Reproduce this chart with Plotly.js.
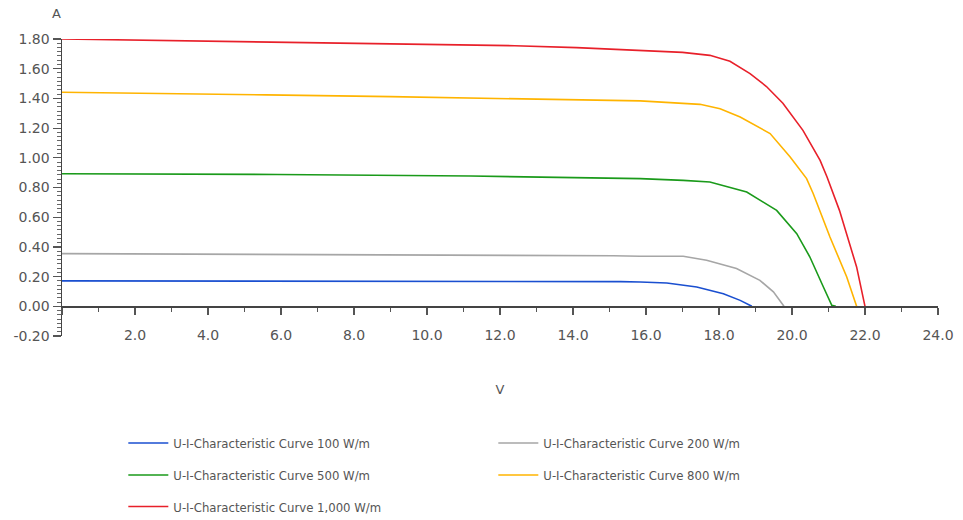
<!DOCTYPE html>
<html>
<head>
<meta charset="utf-8">
<script src="https://cdn.plot.ly/plotly-3.0.1.min.js"></script>
<style>html,body{margin:0;padding:0;background:#fff;}#chart{width:963px;height:520px;}</style>
</head>
<body>
<div id="chart"></div>
<script>
// Voltage (V) and current (A) pairs
const v100  = [0, 5.0, 10.0, 15.3, 15.84, 16.57, 17.39, 18.12, 18.58, 18.9];
const i100  = [0.171, 0.171, 0.170, 0.166, 0.164, 0.157, 0.130, 0.085, 0.040, 0.0];

const v200  = [0, 6.85, 12.0, 15.1, 15.84, 17.02, 17.66, 18.48, 19.12, 19.49, 19.78];
const i200  = [0.355, 0.350, 0.346, 0.340, 0.337, 0.337, 0.310, 0.254, 0.175, 0.097, 0.0];

const v500  = [0, 5.9, 11.2, 14.6, 15.84, 17.02, 17.75, 18.76, 19.58, 20.13, 20.49, 20.86, 21.09, 21.2];
const i500  = [0.893, 0.888, 0.877, 0.866, 0.860, 0.848, 0.837, 0.770, 0.646, 0.489, 0.332, 0.130, 0.007, 0.0];

const v800  = [0, 2.0, 5.6, 9.0, 12.2, 14.1, 15.84, 17.48, 18.03, 18.58, 19.4, 19.95, 20.4, 20.58, 21.04, 21.5, 21.77];
const i800  = [1.441, 1.436, 1.424, 1.412, 1.400, 1.390, 1.383, 1.360, 1.331, 1.275, 1.163, 1.006, 0.860, 0.760, 0.467, 0.197, 0.0];

const v1000 = [0, 1.5, 4.4, 7.3, 10.0, 12.4, 14.1, 15.84, 17.0, 17.75, 18.3, 18.85, 19.3, 19.75, 20.3, 20.77, 20.96, 21.3, 21.55, 21.77, 22.0];
const i1000 = [1.80, 1.795, 1.785, 1.775, 1.765, 1.755, 1.742, 1.724, 1.71, 1.69, 1.65, 1.567, 1.48, 1.367, 1.185, 0.983, 0.871, 0.646, 0.45, 0.265, 0.0];

const seriesNames = [
  "U-I-Characteristic Curve 100 W/m",
  "U-I-Characteristic Curve 200 W/m",
  "U-I-Characteristic Curve 500 W/m",
  "U-I-Characteristic Curve 800 W/m",
  "U-I-Characteristic Curve 1,000 W/m"
];
const seriesColors = ["#1a4fd0", "#a6a6a6", "#1a9a1a", "#ffb400", "#e8202a"];

const xTickVals = [2, 4, 6, 8, 10, 12, 14, 16, 18, 20, 22, 24];
const xTickText = ["2.0", "4.0", "6.0", "8.0", "10.0", "12.0", "14.0", "16.0", "18.0", "20.0", "22.0", "24.0"];
const yTickVals = [-0.2, 0, 0.2, 0.4, 0.6, 0.8, 1.0, 1.2, 1.4, 1.6, 1.8];
const yTickText = ["-0.20", "0.00", "0.20", "0.40", "0.60", "0.80", "1.00", "1.20", "1.40", "1.60", "1.80"];

const xs = [v100, v200, v500, v800, v1000];
const ys = [i100, i200, i500, i800, i1000];
const legendOf = ["legend", "legend", "legend2", "legend2", "legend3"];

const traces = xs.map((x, k) => ({
  type: "scatter", mode: "lines", x: x, y: ys[k], name: seriesNames[k],
  line: {color: seriesColors[k], width: 1.6},
  legend: legendOf[k], hoverinfo: "x+y+name"
}));
// carrier for the zero-line axis (no marks)
traces.push({type: "scatter", mode: "lines", x: [null], y: [null], xaxis: "x2", showlegend: false, hoverinfo: "skip"});

const txtFont = {family: "DejaVu Sans Condensed, Liberation Sans Narrow, Liberation Sans, sans-serif", size: 13, color: "#555"};
const tickFont = {family: "DejaVu Sans, sans-serif", size: 14, color: "#555"};
const legCommon = {orientation: "h", xanchor: "left", yanchor: "middle", x: 0.07, yref: "container",
  font: txtFont, entrywidth: 315, entrywidthmode: "pixels", itemwidth: 40, bgcolor: "rgba(0,0,0,0)", traceorder: "normal"};

const layout = {
  width: 963, height: 520,
  margin: {l: 62, r: 25, t: 39, b: 184, autoexpand: false},
  paper_bgcolor: "#fff", plot_bgcolor: "#fff",
  showlegend: true,
  xaxis: {
    range: [0, 24], tickvals: xTickVals, ticktext: xTickText,
    showline: false, showgrid: false, zeroline: false, ticks: "",
    tickfont: tickFont, ticklabelstandoff: -11,
    title: {text: "V", font: {family: "DejaVu Sans, sans-serif", size: 13, color: "#555"}, standoff: 42}
  },
  xaxis2: {
    range: [0, 24], overlaying: "x", anchor: "free", position: 0.1,
    showline: true, linecolor: "#444", linewidth: 1.5,
    showgrid: false, zeroline: false, showticklabels: false,
    tickmode: "linear", tick0: 0, dtick: 2, ticks: "outside", ticklen: 7, tickwidth: 1.5, tickcolor: "#555",
    minor: {tickmode: "linear", tick0: 0, dtick: 1, ticks: "outside", ticklen: 4, tickwidth: 1.5, tickcolor: "#555"}
  },
  yaxis: {
    range: [-0.2, 1.8], tickvals: yTickVals, ticktext: yTickText,
    showline: true, linecolor: "#444", linewidth: 1.5,
    showgrid: false, zeroline: false,
    ticks: "outside", ticklen: 8, tickwidth: 1.2, tickcolor: "#555",
    minor: {tickmode: "linear", tick0: 0, dtick: 0.2 / 7, ticks: "outside", ticklen: 4, tickwidth: 1, tickcolor: "#666"},
    tickfont: tickFont
  },
  legend: Object.assign({}, legCommon, {y: 0.148}),
  legend2: Object.assign({}, legCommon, {y: 0.0865}),
  legend3: Object.assign({}, legCommon, {y: 0.026}),
  annotations: [
    {text: "A", xref: "paper", yref: "paper", x: -0.006, y: 1.0, yshift: 26, xanchor: "center", yanchor: "middle",
     showarrow: false, font: {family: "DejaVu Sans, sans-serif", size: 13, color: "#555"}}
  ]
};

Plotly.newPlot("chart", traces, layout, {displayModeBar: false, staticPlot: true});
</script>
</body>
</html>
